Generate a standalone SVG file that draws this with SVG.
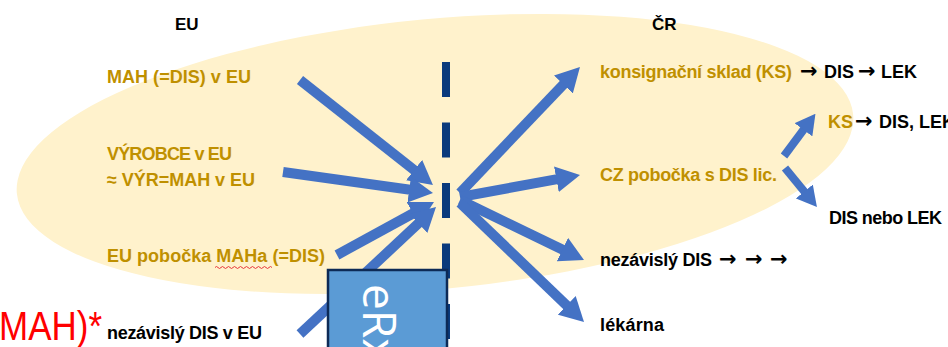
<svg xmlns="http://www.w3.org/2000/svg" width="948" height="347" viewBox="0 0 948 347">
<style>
.t{font-family:"Liberation Sans",Arial,sans-serif;font-weight:bold;font-size:18px}
.g{fill:#BF9000}
.k{fill:#000000}
.ar{font-family:"DejaVu Sans",sans-serif;font-weight:bold;font-size:21px}
.arr{stroke:#4472C4;stroke-width:10;fill:none;marker-end:url(#ah)}
.arr2{stroke:#4472C4;stroke-width:8;fill:none;marker-end:url(#ah2)}
</style>
<defs>
<marker id="ah" markerUnits="userSpaceOnUse" markerWidth="24" markerHeight="26" viewBox="0 0 24 26" refX="1" refY="13" orient="auto"><path d="M0,0 L24,13 L0,26 z" fill="#4472C4"/></marker>
<marker id="ah2" markerUnits="userSpaceOnUse" markerWidth="20" markerHeight="22" viewBox="0 0 20 22" refX="1" refY="11" orient="auto"><path d="M0,0 L20,11 L0,22 z" fill="#4472C4"/></marker>
</defs>
<rect x="0" y="0" width="948" height="347" fill="#ffffff"/>
<g id="region">
<ellipse cx="435" cy="154" rx="420" ry="135" transform="rotate(-5.4 435 154)" fill="#FFF2CC"/>
</g>
<g id="border">
<line x1="446" y1="62" x2="446" y2="347" stroke="#0A3A7C" stroke-width="8" stroke-dasharray="35 25.5"/>
</g>
<g id="connectors">
<line class="arr" x1="300" y1="80" x2="414.9" y2="170.7"/>
<line class="arr" x1="283" y1="172" x2="410.2" y2="189.8"/>
<line class="arr" x1="337" y1="255" x2="413.8" y2="213"/>
<line class="arr" x1="300" y1="334" x2="419.2" y2="222.7"/>
<line class="arr" x1="460" y1="193" x2="564.1" y2="83.7"/>
<line class="arr" x1="460" y1="197" x2="557.4" y2="179.1"/>
<line class="arr" x1="460" y1="200" x2="563.3" y2="250"/>
<line class="arr" x1="460" y1="203" x2="567.4" y2="306.1"/>
<line class="arr2" x1="784" y1="156" x2="804.1" y2="129"/>
<line class="arr2" x1="785" y1="168" x2="804.9" y2="192.3"/>
</g>
<g id="eu-header"><text class="t k" x="175" y="30" style="font-size:17px">EU</text></g>
<g id="cr-header"><text class="t k" x="652" y="30" style="font-size:17px">ČR</text></g>
<g id="mah-eu"><text class="t g" x="107" y="83" textLength="144">MAH (=DIS) v EU</text></g>
<g id="vyrobce-eu"><text class="t g" x="107" y="160" textLength="125">VÝROBCE v EU</text>
<text class="t g" x="107" y="186" textLength="148">≈ VÝR=MAH v EU</text></g>
<g id="eu-pobocka"><text class="t g" x="107" y="262" textLength="218">EU pobočka MAHa (=DIS)</text>
<path d="M215,267.5 q1.5,-2 3,0 t3,0 t3,0 t3,0 t3,0 t3,0 t3,0 t3,0 t3,0 t3,0 t3,0 t3,0 t3,0 t3,0 t3,0 t3,0 t3,0 t3,0 t3,0" fill="none" stroke="#E8353A" stroke-width="1"/></g>
<g id="nezavisly-dis-eu"><text class="t k" x="107" y="339" textLength="155">nezávislý DIS v EU</text></g>
<g id="konsignacni-sklad"><text class="t" y="78"><tspan class="g" x="600" textLength="192">konsignační sklad (KS)</tspan><tspan class="k ar" x="800">→</tspan><tspan class="k" x="824">DIS</tspan><tspan class="k ar" x="858">→</tspan><tspan class="k" x="881">LEK</tspan></text></g>
<g id="ks"><text class="t" y="128"><tspan class="g" x="828">KS</tspan><tspan class="k ar" x="855">→</tspan><tspan class="k" x="879">DIS, LEK</tspan></text></g>
<g id="cz-pobocka"><text class="t g" x="600" y="181" textLength="177">CZ pobočka s DIS lic.</text></g>
<g id="dis-nebo-lek"><text class="t k" x="829" y="224" textLength="113">DIS nebo LEK</text></g>
<g id="nezavisly-dis"><text class="t k" y="266"><tspan x="600" textLength="112">nezávislý DIS</tspan><tspan class="ar" x="719">→</tspan><tspan class="ar" x="745">→</tspan><tspan class="ar" x="770">→</tspan></text></g>
<g id="lekarna"><text class="t k" x="600" y="331" textLength="64">lékárna</text></g>
<g id="erx">
<rect x="328" y="270" width="119" height="100" fill="#5B9BD5" stroke="#0D2A56" stroke-width="2.5"/>
<text transform="translate(363,284) rotate(90)" font-family="'Open Sans',sans-serif" font-size="46" fill="#ffffff">eRx</text>
</g>
<g id="mah-note"><text x="-1" y="340" font-family="'Liberation Sans',Arial,sans-serif" font-size="40" fill="#FF0000" textLength="103" lengthAdjust="spacingAndGlyphs">MAH)*</text></g>
</svg>
